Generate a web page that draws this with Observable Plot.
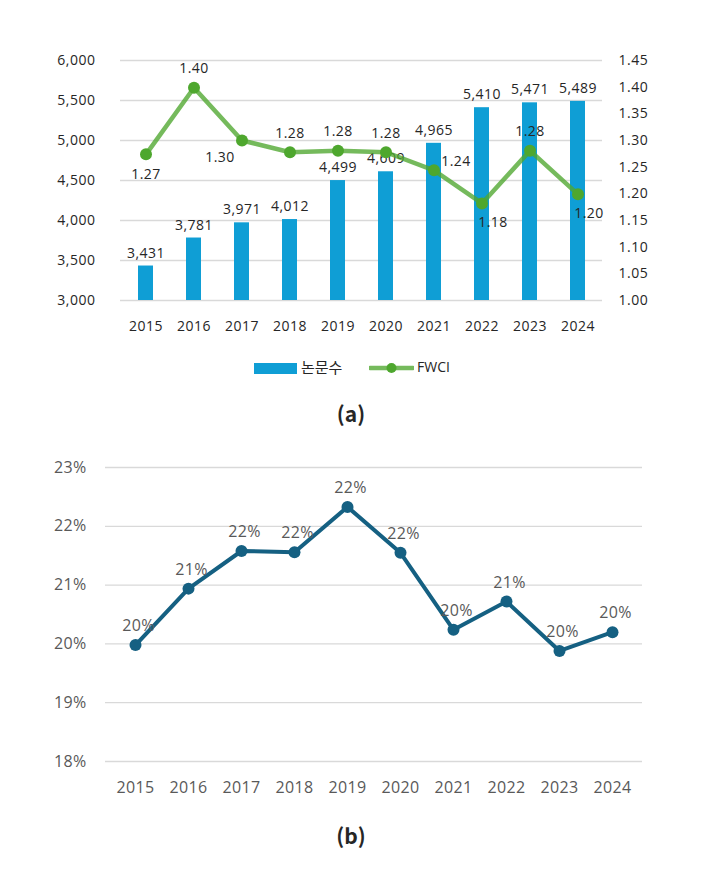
<!DOCTYPE html>
<html><head><meta charset="utf-8">
<script src="https://cdn.jsdelivr.net/npm/d3@7"></script>
<script src="https://cdn.jsdelivr.net/npm/@observablehq/plot@0.6"></script>
<style>
body{margin:0;background:#fff;font-family:"Open Sans","Noto Sans CJK KR",sans-serif;}
#wrap{position:relative;width:702px;height:888px;overflow:hidden;}
.abs{position:absolute;}
.cap{position:absolute;left:0;width:702px;text-align:center;font-size:21px;font-weight:600;color:#262626;line-height:24px;font-family:"Noto Sans CJK KR","Noto Sans",sans-serif;}
.lg{position:absolute;font-size:14px;color:#262626;line-height:16px;}
</style></head><body><div id="wrap"></div>
<script>
// ---- data ----
const years = ["2015","2016","2017","2018","2019","2020","2021","2022","2023","2024"];
const papers = [3431,3781,3971,4012,4499,4609,4965,5410,5471,5489];
const fwci = [1.274,1.399,1.30,1.278,1.281,1.278,1.244,1.182,1.281,1.199];
const share = [19.98,20.94,21.58,21.56,22.33,21.55,20.24,20.72,19.88,20.20];
const leftTicks = [3000,3500,4000,4500,5000,5500,6000];
const rightTicks = [1.00,1.05,1.10,1.15,1.20,1.25,1.30,1.35,1.40,1.45];
const shareTicks = [18,19,20,21,22,23];
const seriesNames = ["논문수","FWCI"];

const rowsA = years.map((y,i)=>({year:y, papers:papers[i], fwci:fwci[i]}));
const rowsB = years.map((y,i)=>({year:y, share:share[i]}));

const wrap = document.getElementById("wrap");
const font = '"Open Sans","Noto Sans CJK KR",sans-serif';
const toLeft = d3.scaleLinear([1.0,1.45],[3000,6000]);
const fmt = d3.format(",");

// label placement for FWCI labels (Excel-like)
const place = {above:[0,-19], below:[0,20], belowLeft:[-22,17], right:[22,-9], belowRight:[11,19]};
const fwciPlace = {"2015":"below","2016":"above","2017":"belowLeft","2018":"above","2019":"above","2020":"above","2021":"right","2022":"belowRight","2023":"above","2024":"belowRight"};

const chartA = Plot.plot({
  width:702, height:340, marginTop:60, marginBottom:40, marginLeft:120, marginRight:100,
  style:{fontFamily:font, fontSize:"14px", letterSpacing:"0.5px", color:"#262626", background:"transparent"},
  x:{type:"band", domain:years, paddingInner:0.69, paddingOuter:0.345, label:null},
  y:{domain:[3000,6000], label:null},
  marks:[
    Plot.gridY(leftTicks,{stroke:"#d9d9d9", strokeOpacity:1, strokeWidth:1.3}),
    Plot.axisX({tickSize:0, tickPadding:21, label:null}),
    Plot.axisY(leftTicks,{tickSize:0, tickPadding:25, tickFormat:fmt, label:null}),
    Plot.axisY(rightTicks.map(toLeft),{anchor:"right", tickSize:0, tickPadding:16, tickFormat:v=>toLeft.invert(v).toFixed(2), label:null}),
    Plot.barY(rowsA,{x:"year", y1:3000, y2:"papers", fill:"#0F9ED5"}),
    Plot.text(rowsA,{x:"year", y:"papers", text:d=>fmt(d.papers), dy:-13, fill:"#262626"}),
    Plot.line(rowsA,{x:"year", y:d=>toLeft(d.fwci), stroke:"#4EA72E", strokeOpacity:0.78, strokeWidth:4.5}),
    Plot.dot(rowsA,{x:"year", y:d=>toLeft(d.fwci), r:6, fill:"#4EA72E"}),
    ...Object.entries(place).map(([k,[dx,dy]])=>Plot.text(rowsA.filter(d=>fwciPlace[d.year]===k),{x:"year", y:d=>toLeft(d.fwci), text:d=>d.fwci.toFixed(2), dx, dy, fill:"#262626"}))
  ]
});
chartA.style.position="absolute"; chartA.style.left="0px"; chartA.style.top="0px";
wrap.appendChild(chartA);

// legend
const lg = document.createElement("div");
lg.innerHTML = `
<div class="abs" style="left:254px;top:363px;width:43px;height:11px;background:#0F9ED5"></div>
<div class="lg" style="left:301px;top:359px;font-family:'Noto Sans CJK KR',sans-serif;font-size:15px">${seriesNames[0]}</div>
<svg class="abs" style="left:369px;top:361px" width="45" height="14"><line x1="1" x2="44" y1="7" y2="7" stroke="#4EA72E" stroke-opacity="0.78" stroke-width="4.5" stroke-linecap="round"/><circle cx="22.5" cy="7" r="5" fill="#4EA72E"/></svg>
<div class="lg" style="left:417px;top:359px">${seriesNames[1]}</div>
<div class="cap" style="top:401px">(a)</div>
<div class="cap" style="top:823px">(b)</div>`;
wrap.appendChild(lg);

const chartB = Plot.plot({
  width:702, height:360, marginTop:27, marginBottom:39, marginLeft:105, marginRight:60,
  style:{fontFamily:font, fontSize:"16px", letterSpacing:"0.3px", color:"#595959", background:"transparent"},
  x:{type:"point", domain:years, padding:0.5, label:null},
  y:{domain:[18,23], label:null},
  marks:[
    Plot.gridY(shareTicks,{stroke:"#d9d9d9", strokeOpacity:1, strokeWidth:1.3}),
    Plot.axisX({tickSize:0, tickPadding:20, label:null}),
    Plot.axisY(shareTicks,{tickSize:0, tickPadding:19, tickFormat:d=>d+"%", label:null}),
    Plot.line(rowsB,{x:"year", y:"share", stroke:"#156082", strokeWidth:4}),
    Plot.dot(rowsB,{x:"year", y:"share", r:6, fill:"#156082"}),
    Plot.text(rowsB,{x:"year", y:"share", text:d=>Math.round(d.share)+"%", dx:3, dy:-19, fill:"#595959"})
  ]
});
chartB.style.position="absolute"; chartB.style.left="0px"; chartB.style.top="440px";
wrap.appendChild(chartB);
</script></body></html>
